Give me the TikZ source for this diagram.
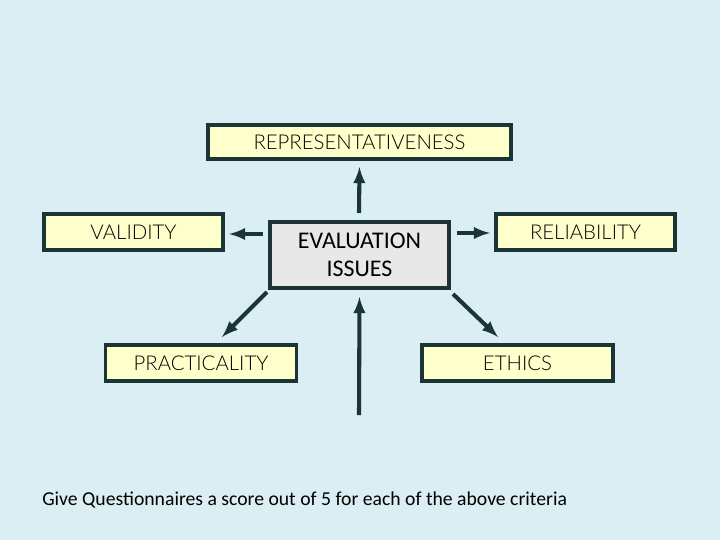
\documentclass[tikz,border=0pt]{standalone}
\usepackage{fontspec}
\setmainfont{Carlito}
\newfontfamily\thinfont{Lato Light}
\usepackage{tikz}
\usetikzlibrary{positioning}

\definecolor{hintergrund}{HTML}{DAEEF3}
\definecolor{kastenfarbe}{HTML}{FFFFCC}
\definecolor{randfarbe}{HTML}{1B3535}
\definecolor{mittefarbe}{HTML}{E8E8E8}

\begin{document}
\begin{tikzpicture}[
        x=0.025cm, y=-0.025cm,
        every node/.style={font=\fontsize{15}{18}\selectfont},
        kasten/.style={draw=randfarbe, line width=2.8pt, fill=kastenfarbe,
                       inner sep=0pt, font=\thinfont\fontsize{14.5}{18}\selectfont},
        schmal/.style={kasten, minimum width=4.475cm, minimum height=0.9cm},
        breit/.style={kasten, minimum width=4.775cm, minimum height=0.9cm},
        mitte/.style={kasten, fill=mittefarbe, align=center,
                      minimum width=4.475cm, minimum height=1.65cm,
                      font=\fontsize{17}{20}\selectfont},
        pfeil/.style={draw=randfarbe, line width=2.9pt, -latex}
    ]
        \fill[hintergrund] (0,0) rectangle (720,540);
        \useasboundingbox (0,0) rectangle (720,540);

        \node[kasten, minimum width=7.575cm, minimum height=0.85cm]
            (repr) at (359.5,142) {REPRESENTATIVENESS};
        \node[schmal] (valid) at (133.5,232) {VALIDITY};
        \node[schmal] (relia) at (585.5,232) {RELIABILITY};
        \node[mitte]  (eval)  at (359.5,255) {EVALUATION\\ISSUES};
        \node[breit]  (prakt) at (201,363)   {PRACTICALITY};
        \node[breit]  (ethik) at (517.5,363) {ETHICS};

        \coordinate (unten) at (359,415);
        \coordinate (e1) at (359,213);
        \coordinate (e2) at (263,234);
        \coordinate (e3) at (457,233);
        \coordinate (e4) at (267,292);
        \coordinate (e5) at (453,294);
        \coordinate (z4) at (222,337);
        \coordinate (z5) at (498,337);

        \draw[pfeil] (e1) -- (repr.south |- 0,167);
        \draw[pfeil] (e2) -- (229,234);
        \draw[pfeil] (e3) -- (490,233);
        \draw[pfeil] (e4) -- (z4);
        \draw[pfeil] (e5) -- (z5);
        \draw[pfeil] (unten) -- (eval.south |- 0,297);

        \node[anchor=base west, inner sep=0pt, font=\fontsize{14}{16}\selectfont]
            (fuss) at (42,505)
            {Give Questionnaires a score out of 5 for each of the above criteria};
    \end{tikzpicture}
\end{document}
